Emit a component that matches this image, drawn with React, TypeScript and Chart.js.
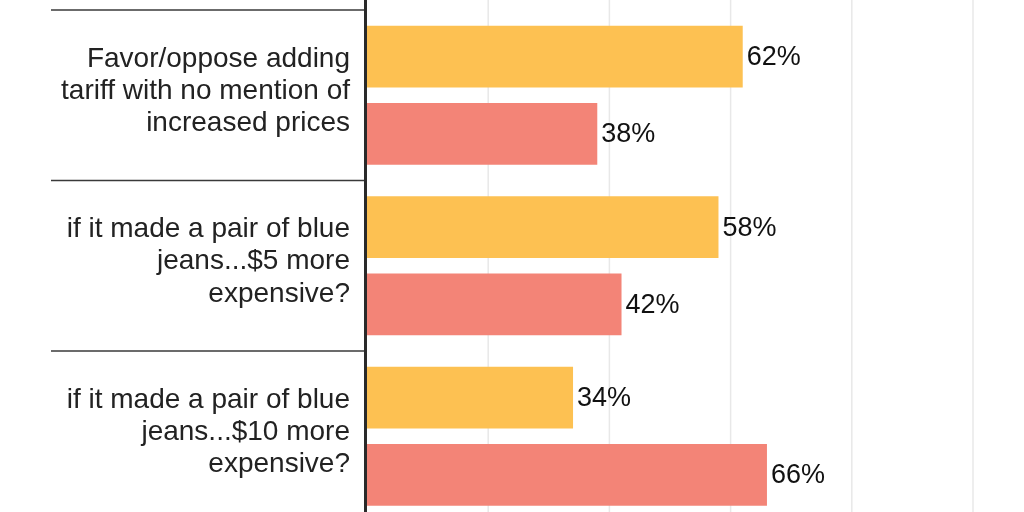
import { useEffect, useRef } from "react";
import { Chart, registerables } from "chart.js";

Chart.register(...registerables);

const CATEGORIES: string[][] = [
  ["Favor/oppose adding", "tariff with no mention of", "increased prices"],
  ["if it made a pair of blue", "jeans...$5 more", "expensive?"],
  ["if it made a pair of blue", "jeans...$10 more", "expensive?"],
];
const SERIES_NAMES = ["Favor", "Oppose"];
const FAVOR = [62, 58, 34];
const OPPOSE = [38, 42, 66];
const GRID_TICKS = [20, 40, 60, 80, 100];

const FONT = "'Liberation Sans', Arial, sans-serif";

const decor = {
  id: "decor",
  beforeDatasetsDraw(chart: any) {
    const { ctx, chartArea } = chart;
    const x = chart.scales.x;
    const y = chart.scales.y;
    const H = chart.height;
    ctx.save();
    // vertical grid lines
    ctx.strokeStyle = "#e8e8e8";
    ctx.lineWidth = 1.5;
    GRID_TICKS.forEach((v) => {
      const px = x.getPixelForValue(v);
      ctx.beginPath();
      ctx.moveTo(px, 0);
      ctx.lineTo(px, H);
      ctx.stroke();
    });
    // category separators
    ctx.strokeStyle = "#3a3a3a";
    ctx.lineWidth = 1.5;
    for (let i = 0; i <= CATEGORIES.length; i++) {
      const py = y.getPixelForValue(i - 0.5);
      ctx.beginPath();
      ctx.moveTo(51, py);
      ctx.lineTo(chartArea.left - 2, py);
      ctx.stroke();
    }
    // axis line
    ctx.strokeStyle = "#2a2a2a";
    ctx.lineWidth = 3;
    ctx.beginPath();
    ctx.moveTo(chartArea.left - 1.5, 0);
    ctx.lineTo(chartArea.left - 1.5, H);
    ctx.stroke();
    ctx.restore();
  },
  afterDatasetsDraw(chart: any) {
    const { ctx } = chart;
    ctx.save();
    ctx.font = `27px ${FONT}`;
    ctx.fillStyle = "#111111";
    ctx.textAlign = "left";
    ctx.textBaseline = "middle";
    chart.data.datasets.forEach((ds: any, di: number) => {
      const meta = chart.getDatasetMeta(di);
      meta.data.forEach((el: any, i: number) => {
        ctx.fillText(`${ds.data[i]}%`, el.x + 4, el.y + 1);
      });
    });
    ctx.restore();
  },
};

export default function App() {
  const ref = useRef<HTMLCanvasElement | null>(null);

  useEffect(() => {
    document.body.style.margin = "0";
    document.body.style.overflow = "hidden";
    if (!ref.current) return;
    const chart = new Chart(ref.current, {
      type: "bar",
      data: {
        labels: CATEGORIES,
        datasets: [
          {
            label: SERIES_NAMES[0],
            data: FAVOR,
            backgroundColor: "#FDC152",
            borderWidth: 0,
            categoryPercentage: 0.906,
            barPercentage: 0.797,
          },
          {
            label: SERIES_NAMES[1],
            data: OPPOSE,
            backgroundColor: "#F38477",
            borderWidth: 0,
            categoryPercentage: 0.906,
            barPercentage: 0.797,
          },
        ],
      },
      options: {
        indexAxis: "y",
        animation: false,
        responsive: true,
        maintainAspectRatio: false,
        layout: { padding: { top: 10, bottom: 8.5, left: 0, right: 51 } },
        plugins: {
          legend: { display: false },
          tooltip: { enabled: false },
        },
        scales: {
          x: {
            display: false,
            min: 0,
            max: 100,
          },
          y: {
            grid: { display: false, drawTicks: false },
            border: { display: false },
            ticks: {
              padding: 17,
              labelOffset: -4,
              color: "#222222",
              font: { family: FONT, size: 28, lineHeight: 1.15 },
            },
            afterFit: (scale: any) => {
              scale.width = 367;
              scale.paddingTop = 0;
              scale.paddingBottom = 0;
            },
          },
        },
      },
      plugins: [decor],
    });
    return () => chart.destroy();
  }, []);

  return (
    <div style={{ width: 1024, height: 512, overflow: "hidden" }}>
      <div style={{ width: 1024, height: 530, position: "relative" }}>
        <canvas ref={ref} />
      </div>
    </div>
  );
}
